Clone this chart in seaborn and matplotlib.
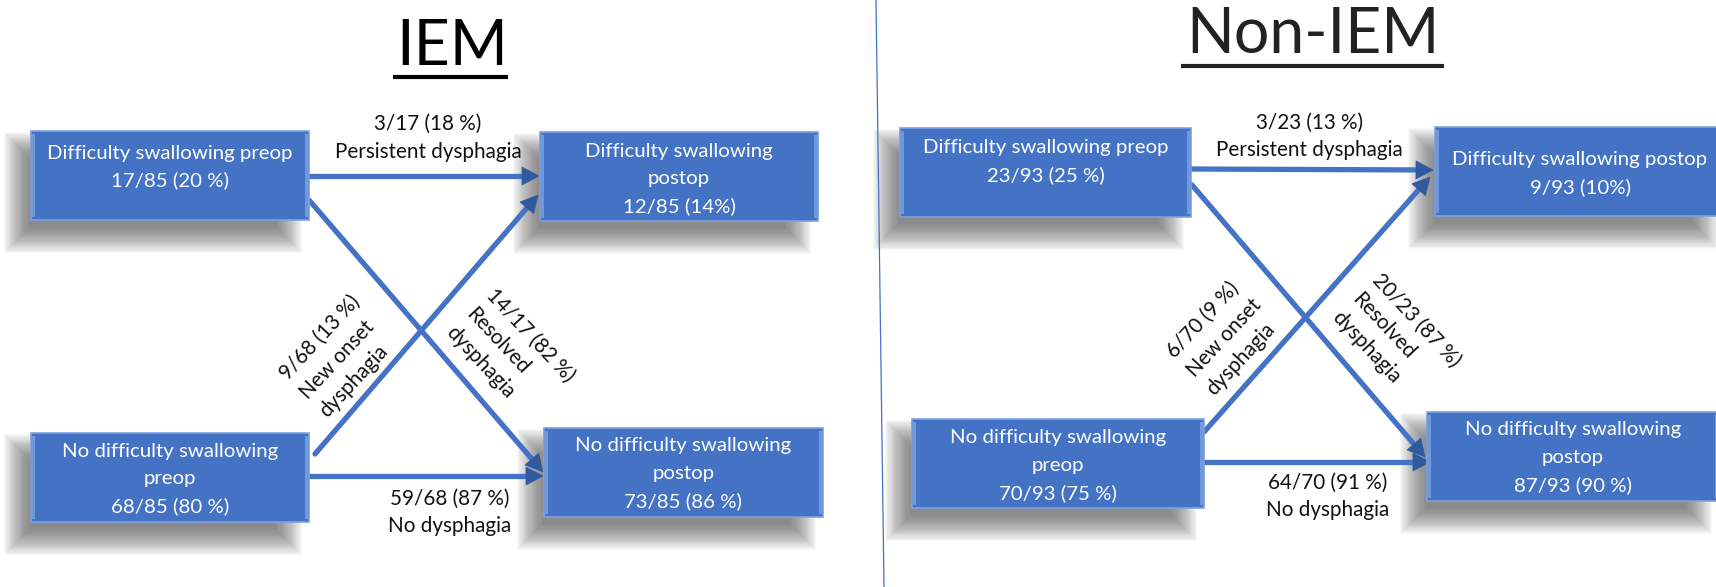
import numpy as np
import pandas as pd
import matplotlib
matplotlib.use("Agg")
import matplotlib.pyplot as plt
from matplotlib.patches import Rectangle, Polygon
import seaborn as sns

# ---------------- data ----------------
panels = ["IEM", "Non-IEM"]

box_labels_iem = ["Difficulty swallowing preop", "Difficulty swallowing\npostop",
                  "No difficulty swallowing\npreop", "No difficulty swallowing\npostop"]
box_counts_iem = ["17/85 (20 %)", "12/85 (14%)", "68/85 (80 %)", "73/85 (86 %)"]

box_labels_non = ["Difficulty swallowing preop", "Difficulty swallowing postop",
                  "No difficulty swallowing\npreop", "No difficulty swallowing\npostop"]
box_counts_non = ["23/93 (25 %)", "9/93 (10%)", "70/93 (75 %)", "87/93 (90 %)"]

flow_labels = ["Persistent dysphagia", "Resolved\ndysphagia", "New onset\ndysphagia", "No dysphagia"]
flow_counts_iem = ["3/17 (18 %)", "14/17 (82 %)", "9/68 (13 %)", "59/68 (87 %)"]
flow_counts_non = ["3/23 (13 %)", "20/23 (87 %)", "6/70 (9 %)", "64/70 (91 %)"]

# ---------------- layout (pixels, y downward) ----------------
LAYOUT = {
    "IEM": dict(
        title=(452, 65), underline=(393, 508, 77), title_color="#000000",
        boxes=[(31, 131, 309, 220, 22), (540, 132, 818, 221, 19),
               (31, 433, 309, 522, 18), (544, 428, 823, 517, 18)],
        arrows=[((309, 176), (539, 176)), ((309, 200), (543, 472)),
                ((315, 454), (538, 195)), ((309, 476), (543, 476))],
        flows=[(428, 124, 0, "c"), (490, 292, -47, "l"), (283, 377, 47, "l"), (450, 499, 0, "c")],
    ),
    "Non-IEM": dict(
        title=(1313, 53), underline=(1181, 1444, 66), title_color="#222222",
        boxes=[(900, 128, 1191, 217, 20), (1435, 127, 1725, 216, 33),
               (912, 419, 1204, 508, 19), (1427, 412, 1719, 501, 18)],
        arrows=[((1191, 169), (1433, 170)), ((1192, 185), (1425, 457)),
                ((1204, 432), (1430, 177)), ((1204, 462), (1430, 462))],
        flows=[(1309, 123, 0, "c"), (1376, 277, -47, "l"), (1170, 355, 47, "l"), (1328, 483, 0, "c")],
    ),
}

W, H = 1716, 587
BOX_FACE = "#4472C4"
BOX_EDGE = "#7EA1E0"
LINE_C = "#4472C4"
HEAD_C = "#2F5A9E"
LINE_SP = 27.5

sns.set_theme(style="white")
plt.rcParams["font.family"] = ["Lato", "DejaVu Sans"]

fig = plt.figure(figsize=(W / 100, H / 100), dpi=100)
ax = fig.add_axes([0, 0, 1, 1])
ax.set_xlim(0, W)
ax.set_ylim(H, 0)
ax.axis("off")
renderer = fig.canvas.get_renderer()


def fit_size(txt, target, base=14):
    t = ax.text(0, 0, txt, fontsize=base)
    w = t.get_window_extent(renderer).width
    t.remove()
    return base * target / w


FS_BOX = fit_size("Difficulty swallowing preop", 247)
FS_FLOW = fit_size("Persistent dysphagia", 187)
FS_TITLE = fit_size("IEM", 112, 50)


def shadow(x0, y0, x1, y1):
    # soft drop shadow built from stacked translucent rectangles
    sx0, sx1 = x0 - 14, x1 - 20
    sy0, sy1 = y0 + 14, y1 + 20
    for d in np.linspace(-13, 13, 24):
        ax.add_patch(Rectangle((sx0 - d, sy0 - d), (sx1 - sx0) + 2 * d, (sy1 - sy0) + 2 * d,
                               facecolor="#505050", edgecolor="none", alpha=0.04,
                               zorder=1))


def draw_box(x0, y0, x1, y1, off, lines):
    shadow(x0, y0, x1, y1)
    ax.add_patch(Rectangle((x0, y0), x1 - x0, y1 - y0, facecolor=BOX_FACE,
                           edgecolor=BOX_EDGE, lw=1.2, zorder=3))
    for bx in (x0 + 1, x1 - 4):
        ax.add_patch(Rectangle((bx, y0 + 3), 3, y1 - y0 - 6, facecolor="#7197DC",
                               edgecolor="none", zorder=3.5))
    cx = (x0 + x1) / 2
    for i, ln in enumerate(lines):
        ax.text(cx, y0 + off + i * LINE_SP, ln, color="white", fontsize=FS_BOX,
                ha="center", va="center", zorder=5)


def flow_text(x, y, rot, mode, lines):
    if mode == "c":
        for i, ln in enumerate(lines):
            ax.text(x, y + i * LINE_SP, ln, color="#111111", fontsize=FS_FLOW,
                    ha="center", va="center", zorder=6)
    else:
        th = np.deg2rad(rot)
        nx, ny = np.sin(th), np.cos(th)
        for i, ln in enumerate(lines):
            ax.text(x + i * LINE_SP * nx, y + i * LINE_SP * ny, ln, color="#111111",
                    fontsize=FS_FLOW, rotation=rot, rotation_mode="anchor",
                    ha="left", va="center", zorder=6)


seg_rows = []
heads = []
for p in panels:
    L = LAYOUT[p]
    blabels = box_labels_iem if p == "IEM" else box_labels_non
    bcounts = box_counts_iem if p == "IEM" else box_counts_non
    fcounts = flow_counts_iem if p == "IEM" else flow_counts_non

    ax.text(L["title"][0], L["title"][1], p, fontsize=FS_TITLE, ha="center",
            va="baseline", color=L["title_color"], zorder=6)
    ux0, ux1, uy = L["underline"]
    ax.plot([ux0, ux1], [uy, uy], color=L["title_color"], lw=3, solid_capstyle="butt")

    for (x0, y0, x1, y1, off), lab, cnt in zip(L["boxes"], blabels, bcounts):
        draw_box(x0, y0, x1, y1, off, lab.split("\n") + [cnt])

    for k, ((sx, sy), (tx, ty)) in enumerate(L["arrows"]):
        u = np.array([tx - sx, ty - sy], float)
        u /= np.hypot(*u)
        n = np.array([-u[1], u[0]])
        tip = np.array([tx, ty], float)
        back = tip - u * 17
        seg_rows += [dict(x=sx, y=sy, seg=f"{p}{k}"), dict(x=back[0], y=back[1], seg=f"{p}{k}")]
        heads.append([tip, back + n * 9, back - n * 9])

    for (fx, fy, rot, mode), lab, cnt in zip(L["flows"], flow_labels, fcounts):
        flow_text(fx, fy, rot, mode, [cnt] + lab.split("\n"))

segs = pd.DataFrame(seg_rows)
sns.lineplot(data=segs, x="x", y="y", units="seg", estimator=None, sort=False,
             color=LINE_C, lw=3.8, ax=ax, legend=False, zorder=2)
for h in heads:
    ax.add_patch(Polygon(h, closed=True, facecolor=HEAD_C, edgecolor=HEAD_C, lw=0.5, zorder=2.5))

ax.plot([876, 884], [0, H], color="#4472C4", lw=0.9, zorder=1)

ax.set_xlim(0, W)
ax.set_ylim(H, 0)
ax.axis("off")
fig.savefig("out.png", dpi=100, facecolor="white")
